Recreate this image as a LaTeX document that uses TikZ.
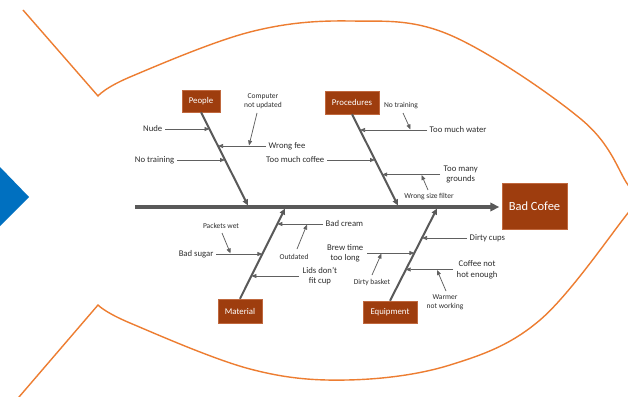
\documentclass[tikz,border=0pt]{standalone}
\usepackage{fontspec}
\setmainfont{Carlito}
\usetikzlibrary{arrows.meta}
\definecolor{rust}{RGB}{158,61,14}
\definecolor{rustedge}{RGB}{192,104,62}
\definecolor{fishc}{RGB}{237,125,49}
\definecolor{bluec}{RGB}{0,112,192}
\definecolor{bonec}{RGB}{89,89,89}
\definecolor{subc}{RGB}{96,96,96}
\definecolor{txt}{RGB}{45,45,45}
\begin{document}
\begin{tikzpicture}[x=1pt,y=-1pt,
  cat/.style={fill=rust, draw=rustedge, line width=0.5pt, text=white, inner sep=0pt, font=\fontsize{8.8}{10}\selectfont},
  lbl/.style={text=txt, inner xsep=2.5pt, inner ysep=1pt, font=\fontsize{8.7}{10.5}\selectfont, text height=6pt, text depth=2pt},
  lbltwo/.style={text=txt, inner xsep=3.5pt, inner ysep=1pt, align=center, font=\fontsize{8.7}{10.5}\selectfont},
  sm/.style={text=txt, inner sep=1pt, align=center, font=\fontsize{7.5}{9.2}\selectfont},
  spineline/.style={draw=bonec, line width=3.2pt, -{Triangle[length=9pt,width=8.5pt]}},
  bone/.style={draw=bonec, line width=2pt, -{Triangle[length=6pt,width=5.5pt]}},
  sub/.style={draw=subc, line width=0.75pt, -{Triangle[length=5pt,width=4pt]}},
  fish/.style={draw=fishc, line width=1.4pt, line join=miter}
]
\clip (0,0) rectangle (628,396);
\fill[white] (0,0) rectangle (628,396);

% fish outline
\draw[fish] (23,10) -- plot[smooth, tension=0.6] coordinates {(98,96) (130,77) (250,32) (350,21) (450,35) (582,120) (628,185) (642,205)};
\draw[fish] (13,404) -- plot[smooth, tension=0.6] coordinates {(98,305) (130,323) (250,369) (347,380) (450,365) (540,320) (628,213) (642,193)};

% blue chevron
\fill[bluec] (0,167) -- (29,197) -- (0,226) -- cycle;

% head and categories
\node[cat, minimum width=65pt, minimum height=46pt, font=\fontsize{12.5}{14}\selectfont] (bad) at (534.5,206.5) {Bad Cofee};
\node[cat, minimum width=38pt, minimum height=22pt] (people) at (201,101) {People};
\node[cat, minimum width=54pt, minimum height=23pt] (proc) at (352,102.5) {Procedures};
\node[cat, minimum width=44pt, minimum height=24pt] (material) at (240,311) {Material};
\node[cat, minimum width=54pt, minimum height=22pt] (equip) at (390,312) {Equipment};

% spine
\coordinate (spS) at (135,207);
\draw[spineline, shorten >=2.5pt] (spS) -- (bad.west |- spS);

% bones
\coordinate (peopleE) at (248,205.5);
\coordinate (procE) at (398,205.5);
\coordinate (materialE) at (285,208.5);
\coordinate (equipE) at (437,208.5);
\draw[bone] (people.south) -- (peopleE);
\draw[bone] (proc.south) -- (procE);
\draw[bone] (material.north) -- (materialE);
\draw[bone] (equip.north) -- (equipE);

% People causes
\node[lbl, anchor=east] (nude) at (165,129) {Nude};
\coordinate (nudeP) at (209.5,129);
\draw[sub] (nude.east) -- (nudeP);
\node[lbl, anchor=east] (ntA) at (177,160) {No training};
\coordinate (ntAP) at (225,160);
\draw[sub] (ntA.east) -- (ntAP);
\node[lbl, anchor=west] (fee) at (266,146) {Wrong fee};
\coordinate (feeP) at (218,146);
\draw[sub] (fee.west) -- (feeP);
\node[sm] (comp) at (263,101.5) {Computer\\not updated};
\coordinate (compS) at (257,113);
\coordinate (compP) at (249,145.5);
\draw[sub] (compS) -- (compP);

% Procedures causes
\node[sm] (ntB) at (401,106) {No training};
\coordinate (ntBS) at (403,113);
\coordinate (ntBP) at (410.5,129.5);
\draw[sub] (ntBS) -- (ntBP);
\node[lbl, anchor=west] (water) at (427,130) {Too much water};
\coordinate (waterP) at (360,130);
\draw[sub] (water.west) -- (waterP);
\node[lbl, anchor=east] (tmc) at (327,160) {Too much coffee};
\coordinate (tmcP) at (375,160);
\draw[sub] (tmc.east) -- (tmcP);
\node[lbltwo, anchor=west] (grounds) at (440,174.5) {Too many\\grounds};
\coordinate (groundsP) at (382.2,174.5);
\draw[sub] (grounds.west) -- (groundsP);
\node[sm] (wsf) at (429,197) {Wrong size filter};
\coordinate (wsfS) at (428,190);
\coordinate (wsfP) at (421.5,175);
\draw[sub] (wsfS) -- (wsfP);

% Material causes
\node[sm] (pw) at (221,226) {Packets wet};
\coordinate (pwS) at (222,233);
\coordinate (pwP) at (230.5,253.5);
\draw[sub] (pwS) -- (pwP);
\node[lbl, anchor=east] (bs) at (216,254) {Bad sugar};
\coordinate (bsP) at (262.4,254);
\draw[sub] (bs.east) -- (bsP);
\node[lbl, anchor=west] (bc) at (323,224) {Bad cream};
\coordinate (bcP) at (277.3,224);
\draw[sub] (bc.west) -- (bcP);
\node[sm] (outd) at (294,257) {Outdated};
\coordinate (outdS) at (297,249);
\coordinate (outdP) at (307,224.5);
\draw[sub] (outdS) -- (outdP);
\node[lbltwo, anchor=west] (lids) at (299,276) {Lids don't\\fit cup};
\coordinate (lidsP) at (251.4,276);
\draw[sub] (lids.west) -- (lidsP);

% Equipment causes
\node[lbl, anchor=west] (dc) at (467,238) {Dirty cups};
\coordinate (dcP) at (422,238);
\draw[sub] (dc.west) -- (dcP);
\node[lbltwo, anchor=east] (brew) at (367,253) {Brew time\\too long};
\coordinate (brewP) at (414.4,253);
\draw[sub] (brew.east) -- (brewP);
\node[sm] (db) at (372,282) {Dirty basket};
\coordinate (dbS) at (372,275);
\coordinate (dbP) at (381.5,253.5);
\draw[sub] (dbS) -- (dbP);
\node[lbltwo, anchor=west] (hot) at (453,269.5) {Coffee not\\hot enough};
\coordinate (hotP) at (405.7,269.5);
\draw[sub] (hot.west) -- (hotP);
\node[sm] (warm) at (445,302) {Warmer\\not working};
\coordinate (warmS) at (446,291);
\coordinate (warmP) at (437,270);
\draw[sub] (warmS) -- (warmP);
\end{tikzpicture}
\end{document}
